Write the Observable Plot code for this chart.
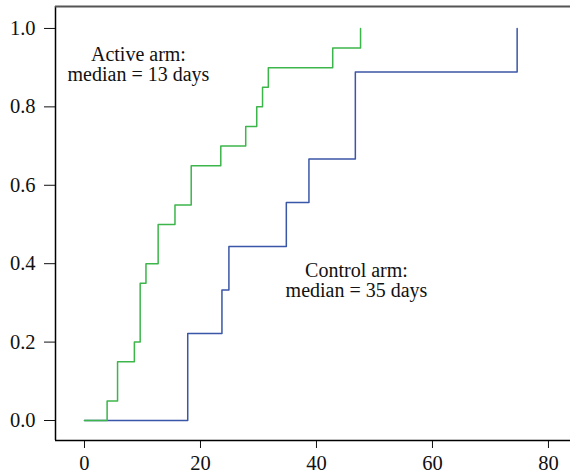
<!DOCTYPE html>
<html>
<head>
<meta charset="utf-8">
<script src="https://cdn.jsdelivr.net/npm/d3@7"></script>
<script src="https://cdn.jsdelivr.net/npm/@observablehq/plot@0.6"></script>
<style>
  html, body { margin: 0; padding: 0; background: #fff; }
</style>
</head>
<body>
<div id="chart"></div>
<script>
// Active arm (Kaplan–Meier style cumulative proportion)
const activeDays = [0, 3.9, 5.7, 8.6, 9.6, 10.6, 12.7, 15.6, 18.4, 23.5, 27.8, 29.7, 30.7, 31.7, 42.8, 47.6];
const activeProp = [0, 0.05, 0.15, 0.20, 0.35, 0.40, 0.50, 0.55, 0.65, 0.70, 0.75, 0.80, 0.85, 0.90, 0.95, 1.00];
// Control arm
const controlDays = [0, 17.8, 23.7, 24.9, 34.8, 38.7, 46.7, 74.6];
const controlProp = [0, 0.222, 0.333, 0.444, 0.556, 0.667, 0.889, 1.000];
// Tick labels
const xTicks = [0, 20, 40, 60, 80];
const yTicks = [0.0, 0.2, 0.4, 0.6, 0.8, 1.0];
// Annotations
const annotationLabels = ["Active arm:\nmedian = 13 days", "Control arm:\nmedian = 35 days"];

const active = activeDays.map((d, i) => ({day: d, p: activeProp[i]}));
const control = controlDays.map((d, i) => ({day: d, p: controlProp[i]}));

const xDomain = [-5, 83.8];
const yDomain = [-0.051, 1.056];

const notes = [
  {x: 9.3, y: 0.867, text: annotationLabels[0]},
  {x: 46.9, y: 0.3145, text: annotationLabels[1]}
];

const chart = Plot.plot({
  width: 570,
  height: 473,
  marginLeft: 55,
  marginRight: 0,
  marginTop: 6,
  marginBottom: 33,
  style: {fontFamily: "'Liberation Serif', 'DejaVu Serif', serif", fontSize: "20.5px", color: "#111", background: "#fff"},
  x: {domain: xDomain, ticks: xTicks, tickSize: 8, tickPadding: 7, label: null, tickFormat: d => String(d)},
  y: {domain: yDomain, ticks: yTicks, tickSize: 11, tickPadding: 9, label: null, tickFormat: d => d.toFixed(1)},
  marks: [
    Plot.ruleX([xDomain[0]], {stroke: "#000", strokeWidth: 1.5}),
    Plot.ruleY([yDomain[0]], {stroke: "#000", strokeWidth: 1.5}),
    Plot.ruleY([yDomain[1]], {stroke: "#555", strokeWidth: 2}),
    Plot.line(control, {x: "day", y: "p", curve: "step-after", stroke: "#3a56a6", strokeWidth: 1.5}),
    Plot.line(active, {x: "day", y: "p", curve: "step-after", stroke: "#3cb54a", strokeWidth: 1.5}),
    Plot.text(notes, {x: "x", y: "y", text: "text", lineAnchor: "bottom", lineHeight: 1.0, textAnchor: "middle", fill: "#111", fontSize: 20})
  ]
});
document.getElementById("chart").appendChild(chart);
</script>
</body>
</html>
